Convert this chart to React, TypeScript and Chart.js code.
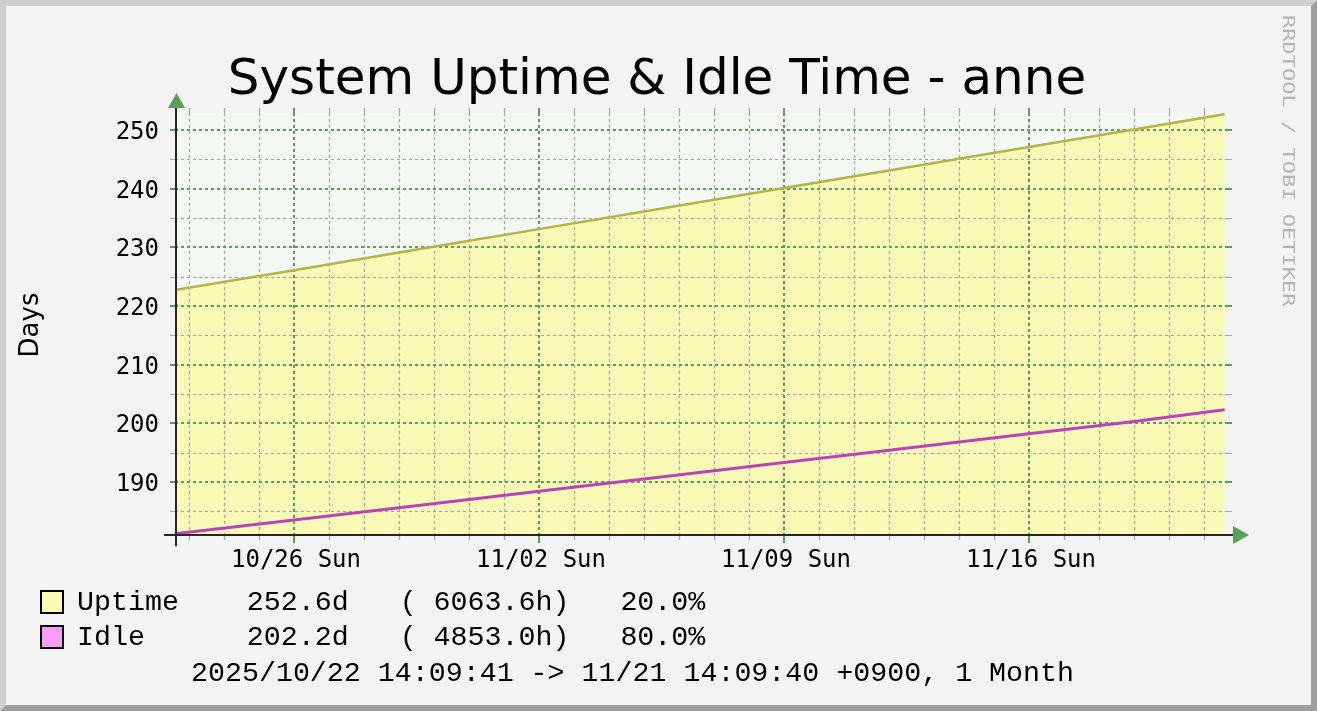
import { useEffect, useRef } from 'react';
import { Chart, registerables } from 'chart.js';

Chart.register(...registerables);

// ---- data (days since 2025/10/22 00:00 +0900) ----
const sampleDays = [0.59, 4, 7, 11, 14, 18, 21, 25, 28, 30.59];
const uptimeDays = [222.7, 226.1, 229.1, 233.1, 236.1, 240.1, 243.1, 247.1, 250.1, 252.7];
const idleDays = [181.15, 183.5, 185.6, 188.4, 190.5, 193.3, 195.4, 198.2, 200.3, 202.3];

// ---- axes / ticks ----
const xMinDay = 0.6;
const xMaxDay = 30.6;
const yMinValue = 180.95;
const yMaxValue = 252.9;
const yMajorTicks = [190, 200, 210, 220, 230, 240, 250];
const yMinorTicks = [185, 195, 205, 215, 225, 235, 245];
const xMinorDays = [1, 2, 3, 5, 6, 7, 8, 9, 10, 12, 13, 14, 15, 16, 17, 19, 20, 21, 22, 23, 24, 26, 27, 28, 29, 30];
const xMajorDays = [4, 11, 18, 25];
const xMajorLabels = ['10/26 Sun', '11/02 Sun', '11/09 Sun', '11/16 Sun'];

// ---- texts ----
const titleText = 'System Uptime & Idle Time - anne';
const yAxisTitle = 'Days';
const watermark = 'RRDTOOL / TOBI OETIKER';
const legendNames = ['Uptime', 'Idle'];
const legendCurrent = ['252.6d', '202.2d'];
const legendHours = ['( 6063.6h)', '( 4853.0h)'];
const legendPercent = ['20.0%', '80.0%'];
const legendSwatches = ['#FAFAB4', '#FA9CFA'];
const periodText = '2025/10/22 14:09:41 -> 11/21 14:09:40 +0900, 1 Month';

const W = 1317;
const H = 711;
const MAJOR = '#5AA05A';
const MINOR = '#A6A6A6';

const pad = (s: string, n: number) => s + ' '.repeat(Math.max(0, n - s.length));

const rrdPlugin = {
  id: 'rrdStyle',
  beforeDraw(chart: any) {
    const ctx = chart.ctx as CanvasRenderingContext2D;
    ctx.save();
    ctx.fillStyle = '#F3F3F3';
    ctx.fillRect(0, 0, W, H);
    // bevel frame
    ctx.fillStyle = '#CFCFCF';
    ctx.beginPath();
    ctx.moveTo(0, 0); ctx.lineTo(W, 0); ctx.lineTo(W - 6, 6); ctx.lineTo(6, 6); ctx.lineTo(6, H - 6); ctx.lineTo(0, H);
    ctx.closePath(); ctx.fill();
    ctx.fillStyle = '#9E9E9E';
    ctx.beginPath();
    ctx.moveTo(W, 0); ctx.lineTo(W, H); ctx.lineTo(0, H); ctx.lineTo(6, H - 6); ctx.lineTo(W - 6, H - 6); ctx.lineTo(W - 6, 6);
    ctx.closePath(); ctx.fill();
    // plot background
    const a = chart.chartArea;
    ctx.fillStyle = '#F4F9F4';
    ctx.fillRect(a.left, a.top, a.right - a.left, a.bottom - a.top);
    ctx.restore();
  },
  afterDatasetDraw(chart: any, args: any) {
    if (args.index !== 2) return;
    const ctx = chart.ctx as CanvasRenderingContext2D;
    const a = chart.chartArea;
    const xs = chart.scales.x;
    const ys = chart.scales.y;
    ctx.save();
    const hLine = (v: number, major: boolean) => {
      const y = Math.round(ys.getPixelForValue(v)) + (major ? 0 : 0.5);
      ctx.strokeStyle = major ? MAJOR : MINOR;
      ctx.lineWidth = major ? 2 : 1.2;
      ctx.setLineDash([]);
      ctx.beginPath();
      ctx.moveTo(170, y); ctx.lineTo(a.left, y);
      ctx.moveTo(a.right, y); ctx.lineTo(1232, y);
      ctx.stroke();
      ctx.setLineDash([3, 3]);
      ctx.beginPath();
      ctx.moveTo(a.left, y); ctx.lineTo(a.right, y);
      ctx.stroke();
    };
    const vLine = (d: number, major: boolean) => {
      const x = Math.round(xs.getPixelForValue(d)) + (major ? 0 : 0.5);
      ctx.strokeStyle = major ? MAJOR : MINOR;
      ctx.lineWidth = major ? 2 : 1.2;
      ctx.setLineDash([]);
      ctx.beginPath();
      ctx.moveTo(x, 108); ctx.lineTo(x, a.top);
      ctx.moveTo(x, a.bottom); ctx.lineTo(x, major ? 543 : 540);
      ctx.stroke();
      ctx.setLineDash([3, 3]);
      ctx.beginPath();
      ctx.moveTo(x, a.top); ctx.lineTo(x, a.bottom);
      ctx.stroke();
    };
    yMinorTicks.forEach((v) => hLine(v, false));
    xMinorDays.forEach((d) => vLine(d, false));
    yMajorTicks.forEach((v) => hLine(v, true));
    xMajorDays.forEach((d) => vLine(d, true));
    ctx.restore();
  },
  afterDraw(chart: any) {
    const ctx = chart.ctx as CanvasRenderingContext2D;
    const a = chart.chartArea;
    const xs = chart.scales.x;
    const ys = chart.scales.y;
    ctx.save();
    // axes
    ctx.setLineDash([]);
    ctx.strokeStyle = '#262626';
    ctx.lineWidth = 2;
    ctx.beginPath();
    ctx.moveTo(176, 101); ctx.lineTo(176, 546);
    ctx.moveTo(164, a.bottom); ctx.lineTo(1236, a.bottom);
    ctx.stroke();
    // arrows
    ctx.fillStyle = '#58A058';
    ctx.beginPath();
    ctx.moveTo(176.5, 93); ctx.lineTo(168, 108); ctx.lineTo(185, 108); ctx.closePath(); ctx.fill();
    ctx.beginPath();
    ctx.moveTo(1249, a.bottom); ctx.lineTo(1233, a.bottom - 9); ctx.lineTo(1233, a.bottom + 9); ctx.closePath(); ctx.fill();

    // title
    ctx.fillStyle = '#000';
    ctx.font = '50px "DejaVu Sans"';
    ctx.textAlign = 'center';
    ctx.textBaseline = 'alphabetic';
    ctx.fillText(titleText, 657, 94);

    // y tick labels
    ctx.font = '24px "DejaVu Sans Mono"';
    ctx.textAlign = 'right';
    yMajorTicks.forEach((v) => {
      ctx.fillText(String(v), 159, ys.getPixelForValue(v) + 9);
    });
    // x tick labels
    ctx.textAlign = 'center';
    xMajorDays.forEach((d, i) => {
      ctx.fillText(xMajorLabels[i], xs.getPixelForValue(d) + 2, 567);
    });

    // y axis title
    ctx.save();
    ctx.translate(38, 325);
    ctx.rotate(-Math.PI / 2);
    ctx.font = '26px "DejaVu Sans"';
    ctx.textAlign = 'center';
    ctx.fillText(yAxisTitle, 0, 0);
    ctx.restore();

    // watermark
    ctx.save();
    ctx.translate(1283, 15);
    ctx.rotate(Math.PI / 2);
    ctx.scale(1, 0.76);
    ctx.font = '22px "DejaVu Sans Mono"';
    ctx.textAlign = 'left';
    ctx.fillStyle = '#B4B4B4';
    ctx.fillText(watermark, 0, 0);
    ctx.restore();

    // legend
    ctx.font = '28.3px "Liberation Mono"';
    ctx.textAlign = 'left';
    const rowBase = [610, 645];
    legendNames.forEach((name, i) => {
      const sy = rowBase[i] - 19;
      ctx.fillStyle = legendSwatches[i];
      ctx.fillRect(41, sy, 22, 22);
      ctx.strokeStyle = '#000';
      ctx.lineWidth = 2;
      ctx.strokeRect(41, sy, 22, 22);
      ctx.fillStyle = '#000';
      const line = pad(name, 10) + pad(legendCurrent[i], 9) + pad(legendHours[i], 13) + legendPercent[i];
      ctx.fillText(line, 77, rowBase[i]);
    });
    ctx.fillText(periodText, 191, 681);
    ctx.restore();
  },
};

export default function App() {
  const ref = useRef<HTMLCanvasElement | null>(null);
  useEffect(() => {
    document.body.style.margin = '0';
    const canvas = ref.current;
    if (!canvas) return;
    const uptimePts = sampleDays.map((d, i) => ({ x: d, y: uptimeDays[i] }));
    const idlePts = sampleDays.map((d, i) => ({ x: d, y: idleDays[i] }));
    const chart = new Chart(canvas, {
      type: 'line',
      data: {
        datasets: [
          {
            label: 'Idle',
            data: idlePts,
            borderColor: '#B944B9',
            borderWidth: 3,
            fill: false,
            pointRadius: 0,
          },
          {
            label: 'Uptime',
            data: uptimePts,
            borderColor: '#B3B446',
            borderWidth: 2.5,
            fill: false,
            pointRadius: 0,
          },
          {
            label: 'Uptime area',
            data: uptimePts,
            borderColor: 'rgba(0,0,0,0)',
            borderWidth: 0,
            backgroundColor: '#F9FAB5',
            fill: 'start',
            pointRadius: 0,
          },
        ],
      },
      options: {
        responsive: false,
        animation: false,
        events: [],
        layout: { padding: { left: 175, right: W - 1225, top: 113, bottom: H - 535 } },
        elements: { line: { tension: 0 } },
        scales: {
          x: { type: 'linear', min: xMinDay, max: xMaxDay, display: false },
          y: { type: 'linear', min: yMinValue, max: yMaxValue, display: false },
        },
        plugins: {
          legend: { display: false },
          tooltip: { enabled: false },
          title: { display: false },
        },
      },
      plugins: [rrdPlugin],
    });
    return () => chart.destroy();
  }, []);
  return (
    <div style={{ width: W, height: H }}>
      <canvas ref={ref} width={W} height={H} style={{ display: 'block' }} />
    </div>
  );
}
